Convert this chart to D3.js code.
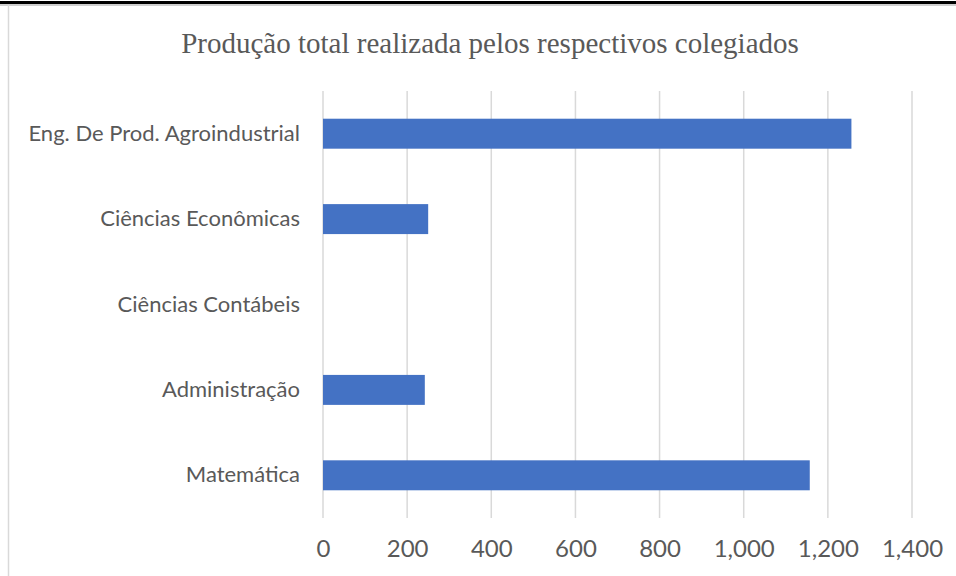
<!DOCTYPE html>
<html>
<head>
<meta charset="utf-8">
<script src="https://cdn.jsdelivr.net/npm/d3@7"></script>
<style>
  html, body { margin: 0; padding: 0; background: #fff; }
  svg { display: block; }
</style>
</head>
<body>
<svg id="chart" width="956" height="576"></svg>
<script>
// Colegiados, listed top to bottom
const categories = [
  "Eng. De Prod. Agroindustrial",
  "Ciências Econômicas",
  "Ciências Contábeis",
  "Administração",
  "Matemática"
];
const values = [1256, 250, 0, 242, 1157];
const tickValues = [0, 200, 400, 600, 800, 1000, 1200, 1400];
const title = "Produção total realizada pelos respectivos colegiados";

const W = 956, H = 576;
const plot = { left: 323, right: 912, top: 91, bottom: 518 };

const svg = d3.select("#chart");

// Frame: heavy top rule and light left edge
svg.append("rect").attr("x", 0).attr("y", 4).attr("width", W).attr("height", 2).attr("fill", "#cfcfcf");
svg.append("rect").attr("x", 0).attr("y", 1).attr("width", W).attr("height", 3).attr("fill", "#000");
svg.append("line")
  .attr("x1", 8.5).attr("x2", 8.5).attr("y1", 5).attr("y2", H)
  .attr("stroke", "#d9d9d9").attr("stroke-width", 1.5);

const x = d3.scaleLinear().domain([0, 1400]).range([plot.left, plot.right]);
const y = d3.scaleBand().domain(categories).range([plot.top, plot.bottom]).paddingInner(0.649).paddingOuter(0.3245);

// Vertical gridlines
svg.append("g").selectAll("line").data(tickValues).join("line")
  .attr("x1", d => x(d)).attr("x2", d => x(d))
  .attr("y1", plot.top).attr("y2", plot.bottom)
  .attr("stroke", "#d9d9d9").attr("stroke-width", 1.5);

// Bars
svg.append("g").selectAll("rect").data(categories.map((c, i) => ({ c, v: values[i] }))).join("rect")
  .attr("x", x(0))
  .attr("y", d => y(d.c))
  .attr("width", d => x(d.v) - x(0))
  .attr("height", y.bandwidth())
  .attr("fill", "#4472C4");

// Value axis labels
const fmt = d3.format(",");
const xAxis = d3.axisBottom(x).tickValues(tickValues).tickFormat(fmt).tickSize(0).tickPadding(0);
const gx = svg.append("g").attr("transform", `translate(0,${plot.bottom + 22})`).call(xAxis);
gx.select(".domain").remove();
gx.selectAll("text")
  .attr("font-family", "Lato, 'Open Sans', sans-serif")
  .attr("font-size", 24)
  .attr("fill", "#595959")
  .attr("dy", "0.71em");

// Category labels
const yAxis = d3.axisLeft(y).tickSize(0).tickPadding(0);
const gy = svg.append("g").attr("transform", `translate(${plot.left - 23},0)`).call(yAxis);
gy.select(".domain").remove();
gy.selectAll("text")
  .attr("font-family", "Lato, 'Open Sans', sans-serif")
  .attr("font-size", 22)
  .attr("fill", "#595959");

// Title
svg.append("text")
  .attr("x", 490).attr("y", 53)
  .attr("text-anchor", "middle")
  .attr("font-family", "'Liberation Serif', 'Times New Roman', serif")
  .attr("font-size", 29)
  .attr("fill", "#595959")
  .text(title);
</script>
</body>
</html>
